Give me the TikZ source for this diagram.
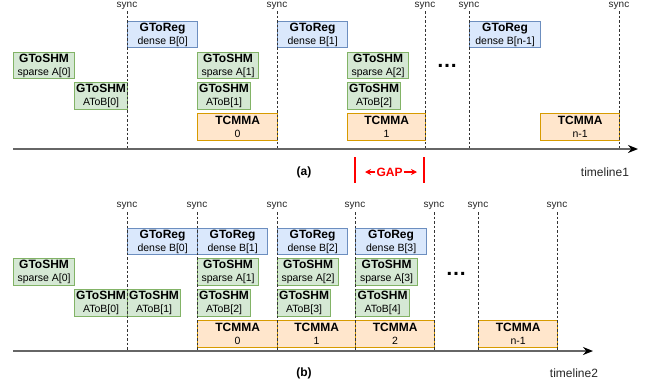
\documentclass[tikz,border=0pt]{standalone}
\usepackage{fontspec}
\setmainfont{Liberation Sans}
\usetikzlibrary{arrows.meta}

\definecolor{gfill}{HTML}{D5E8D4}
\definecolor{gline}{HTML}{82B366}
\definecolor{bfill}{HTML}{DAE8FC}
\definecolor{bline}{HTML}{6C8EBF}
\definecolor{ofill}{HTML}{FFE6CC}
\definecolor{oline}{HTML}{D79B00}
\definecolor{tlgray}{HTML}{666666}

\tikzset{
  blk/.style={draw, line width=1.2pt, inner sep=0pt, anchor=north west, align=center,
    font=\fontsize{10.5}{13}\selectfont},
  gbox/.style={blk, fill=gfill, draw=gline},
  bbox/.style={blk, fill=bfill, draw=bline},
  obox/.style={blk, fill=ofill, draw=oline},
  syncline/.style={draw=black!80, line width=0.9pt, dash pattern=on 2.5pt off 2pt},
  synclbl/.style={inner sep=0pt, font=\fontsize{10}{12}\selectfont, text=black!85},
  tline/.style={draw=tlgray, line width=2pt, -{Stealth[length=10pt,width=8pt,color=black]}},
  captxt/.style={inner sep=0pt, font=\fontsize{12}{14}\selectfont\bfseries},
  tlname/.style={inner sep=0pt, font=\fontsize{12}{14}\selectfont, text=black!85},
  gapline/.style={draw=red, line width=2pt},
  gaparrow/.style={draw=red, line width=1.3pt, -{Stealth[length=6pt,width=6pt]}},
  dots/.style={inner sep=0pt, font=\fontsize{21}{21}\selectfont\bfseries},
}

% \taskbox{style}{name}{x1}{y1}{x2}{y2}{title}{subtitle}
\newcommand\taskbox[8]{%
  \node[#1, minimum width=#5pt-#3pt, minimum height=#6pt-#4pt] (#2) at (#3,#4)
    {{\fontsize{12}{13}\selectfont\bfseries #7}\\#8};}

% \syncmark{name}{x}{label y}{top y}{bottom y}
\newcommand\syncmark[5]{%
  \node[synclbl] (#1l) at (#2,#3) {sync};
  \coordinate (#1t) at (#2,#4);
  \coordinate (#1b) at (#2,#5);
  \draw[syncline] (#1t) -- (#1b);}

\begin{document}
\begin{tikzpicture}[x=1pt, y=-1pt]
\path[use as bounding box, fill=white] (0,0) rectangle (652,386);

% ---------------- (a) ----------------
\taskbox{bbox}{aB0}{127}{21}{197}{47}{GToReg}{dense B[0]}
\taskbox{bbox}{aB1}{277}{21}{347}{47}{GToReg}{dense B[1]}
\taskbox{bbox}{aBn}{469}{21}{540}{47}{GToReg}{dense B[n-1]}

\taskbox{gbox}{aA0}{13}{52}{74}{78}{GToSHM}{sparse A[0]}
\taskbox{gbox}{aT0}{74}{82}{127}{109}{GToSHM}{AToB[0]}
\taskbox{gbox}{aA1}{197}{52}{258}{78}{GToSHM}{sparse A[1]}
\taskbox{gbox}{aT1}{197}{82}{250}{109}{GToSHM}{AToB[1]}
\taskbox{gbox}{aA2}{347}{52}{408}{78}{GToSHM}{sparse A[2]}
\taskbox{gbox}{aT2}{347}{82}{400}{109}{GToSHM}{AToB[2]}

\taskbox{obox}{aM0}{197}{113}{277}{140}{TCMMA}{0}
\taskbox{obox}{aM1}{347}{113}{425}{140}{TCMMA}{1}
\taskbox{obox}{aMn}{540}{113}{619}{140}{TCMMA}{n-1}

\node[dots] (adots) at (447,66) {…};

\syncmark{as1}{127}{5.5}{11}{149}
\syncmark{as2}{277}{5.5}{11}{149}
\syncmark{as3}{425}{5.5}{11}{149}
\syncmark{as4}{469}{5.5}{11}{149}
\syncmark{as5}{619}{5.5}{11}{149}

\coordinate (t1s) at (13,149);
\coordinate (t1e) at (638,149);
\draw[tline] (t1s) -- (t1e);

\node[captxt] (capa) at (304,172) {(a)};
\node[tlname] (tl1) at (605,172) {timeline1};

% gap marker
\coordinate (g1t) at (355,157); \coordinate (g1b) at (355,183);
\coordinate (g2t) at (424,157); \coordinate (g2b) at (424,183);
\draw[gapline] (g1t) -- (g1b);
\draw[gapline] (g2t) -- (g2b);
\node[captxt, text=red] (gap) at (389.5,172) {GAP};
\coordinate (gapl) at (365,172);
\coordinate (gapr) at (417,172);
\draw[gaparrow] ([xshift=-1pt]gap.west) -- (gapl);
\draw[gaparrow] ([xshift=1pt]gap.east) -- (gapr);

% ---------------- (b) ----------------
\taskbox{bbox}{bB0}{127}{228}{197}{254}{GToReg}{dense B[0]}
\taskbox{bbox}{bB1}{197}{228}{267}{254}{GToReg}{dense B[1]}
\taskbox{bbox}{bB2}{277}{228}{347}{254}{GToReg}{dense B[2]}
\taskbox{bbox}{bB3}{355}{228}{426}{254}{GToReg}{dense B[3]}

\taskbox{gbox}{bA0}{13}{258}{74}{285}{GToSHM}{sparse A[0]}
\taskbox{gbox}{bT0}{74}{289}{127}{316}{GToSHM}{AToB[0]}
\taskbox{gbox}{bT1}{127}{289}{180}{316}{GToSHM}{AToB[1]}
\taskbox{gbox}{bA1}{197}{258}{258}{285}{GToSHM}{sparse A[1]}
\taskbox{gbox}{bT2}{197}{289}{250}{316}{GToSHM}{AToB[2]}
\taskbox{gbox}{bA2}{277}{258}{338}{285}{GToSHM}{sparse A[2]}
\taskbox{gbox}{bT3}{277}{289}{330}{316}{GToSHM}{AToB[3]}
\taskbox{gbox}{bA3}{355}{258}{417}{285}{GToSHM}{sparse A[3]}
\taskbox{gbox}{bT4}{355}{289}{409}{316}{GToSHM}{AToB[4]}

\taskbox{obox}{bM0}{197}{320}{277}{347}{TCMMA}{0}
\taskbox{obox}{bM1}{277}{320}{355}{347}{TCMMA}{1}
\taskbox{obox}{bM2}{355}{320}{434}{347}{TCMMA}{2}
\taskbox{obox}{bMn}{478}{320}{557}{347}{TCMMA}{n-1}

\node[dots] (bdots) at (456,274) {…};

\syncmark{bs1}{127}{206}{212}{351}
\syncmark{bs2}{197}{206}{212}{351}
\syncmark{bs3}{277}{206}{212}{351}
\syncmark{bs4}{355}{206}{212}{351}
\syncmark{bs5}{434}{206}{212}{351}
\syncmark{bs6}{478}{206}{212}{351}
\syncmark{bs7}{557}{206}{212}{351}

\coordinate (t2s) at (13,351);
\coordinate (t2e) at (593,351);
\draw[tline] (t2s) -- (t2e);

\node[captxt] (capb) at (304,373) {(b)};
\node[tlname] (tl2) at (574,373) {timeline2};
\end{tikzpicture}
\end{document}
